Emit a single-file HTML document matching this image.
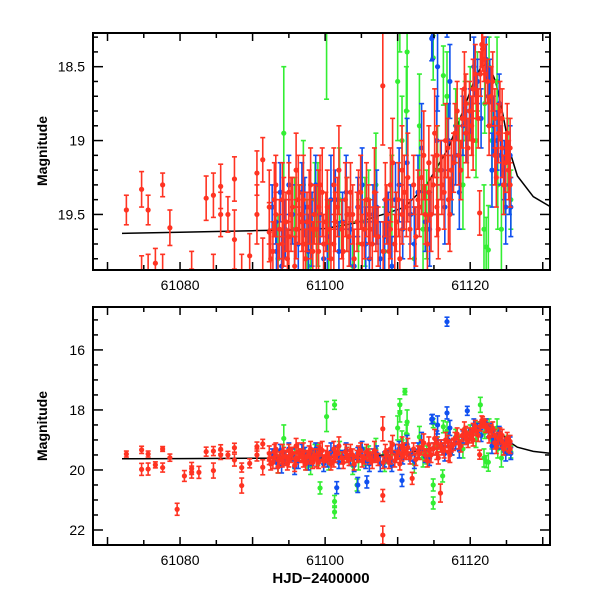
<!DOCTYPE html>
<html><head><meta charset="utf-8"><style>
html,body{margin:0;padding:0;background:#fff;overflow:hidden;width:600px;height:600px;}
svg{display:block;}
svg text{font-family:"Liberation Sans",sans-serif;}
</style></head><body>
<svg id="chart" width="600" height="600" viewBox="0 0 600 600" xmlns="http://www.w3.org/2000/svg">
<rect width="600" height="600" fill="#fff"/>
<defs>
<clipPath id="clipTop"><rect x="93" y="33" width="457" height="237"/></clipPath>
<clipPath id="clipBot"><rect x="93" y="307" width="457" height="238"/></clipPath>
</defs>
<g id="topPanel"></g>
<g id="botPanel"></g>
<text x="47" y="151" transform="rotate(-90 47 151)" text-anchor="middle" font-size="14" font-weight="bold">Magnitude</text>
<text x="47" y="426" transform="rotate(-90 47 426)" text-anchor="middle" font-size="14" font-weight="bold">Magnitude</text>
<text x="321" y="583" text-anchor="middle" font-size="15" font-weight="bold">HJD−2400000</text>
</svg>
<script>
const redT=[61072.6,61074.7,61074.7,61075.6,61075.6,61076.6,61077.6,61077.6,61078.6,61079.6,61080.6,61081.6,61081.6,61082.6,61083.6,61084.6,61084.6,61085.6,61085.6,61086.6,61087.5,61087.5,61088.5,61088.5,61089.6,61090.6,61090.6,61091.4,61091.4,
61092.3,61092.3,61092.8,61093.2,61093.2,61093.7,61094.1,61094.1,61094.6,61095.0,61095.0,61095.5,61096.0,61096.0,61096.5,61097.0,61097.0,61097.5,61098.0,61098.0,61098.5,61099.1,61099.1,61099.6,61100.1,61100.6,61101.2,61101.2,61101.7,61102.3,61102.8,61103.3,61103.8,61104.4,61104.9,61105.4,61106.0,61106.5,61107.0,61107.95,61107.95,61107.95,61108.0,61108.5,61109.0,61109.0,61109.6,61110.1,61110.6,61110.6,61111.2,61111.7,61112.0,61112.2,61112.8,61113.3,61113.8,61114.3,61114.3,61114.9,61115.4,61115.4,61115.9,61115.9,61116.4,61116.9,61117.0,61117.4,61117.9,61118.4,61118.9,61119.4,61119.4,61119.9,61120.4,61120.4,61120.9,61121.3,61121.4,61121.7,61121.9,61122.4,61122.9,61123.4,61123.4,61123.9,61124.4,61124.4,61124.9,61125.3,61125.5,
61092.5,61093.0,61093.5,61094.3,61094.8,61095.3,61095.8,61096.3,61096.8,61097.3,61097.8,61098.3,61098.8,61099.3,61099.8,61100.3,61100.8,61101.4,61101.9,61102.5,61103.0,61103.5,61104.0,61104.6,61105.1,61105.7,61106.2,61106.8,61107.3,61108.3,61108.8,61109.3,61109.8,61110.3,61110.9,61111.4,61112.5,61113.0,61113.6,61114.1,61114.6,61115.1,61115.6,61116.1,61116.6,61117.2,61117.7,61118.2,61118.7,61119.2,61119.7,61120.2,61120.7,61121.1,61121.6,61122.1,61122.6,61123.1,61123.6,61124.1,61124.6,61125.1,61125.5];
const redM=[19.47,19.33,19.98,19.47,19.97,19.83,19.3,19.92,19.59,21.31,20.2,19.95,20.07,20.08,19.39,19.37,20.02,19.31,19.5,19.5,19.26,19.67,19.92,20.52,19.78,19.22,19.5,19.13,19.91,
19.45,19.62,19.75,19.5,19.3,19.6,19.4,19.7,19.55,19.35,19.65,19.45,19.6,19.2,19.5,19.4,19.7,19.55,19.3,19.6,19.5,19.45,19.75,19.35,19.55,19.6,19.3,19.7,19.45,19.6,19.4,19.65,19.5,19.55,19.35,19.6,19.5,19.7,19.55,18.63,22.17,20.85,19.75,19.5,19.3,19.6,19.7,19.4,19.5,19.2,19.45,19.6,20.28,19.3,19.4,19.25,19.5,19.35,19.15,19.3,19.1,19.45,19.2,20.77,19.35,19.05,19.4,19.2,18.95,19.1,18.85,18.95,18.75,18.8,18.65,19.0,18.7,19.49,18.55,18.38,18.45,18.6,18.7,18.85,19.1,18.95,19.05,18.85,19.15,19.2,19.05,
19.8,19.4,19.9,19.55,19.8,19.5,19.85,19.4,19.55,19.8,19.45,19.75,19.6,19.3,19.7,19.45,19.8,19.55,19.2,19.75,19.5,19.35,19.8,19.45,19.7,19.4,19.6,19.35,19.65,19.4,19.75,19.15,19.55,19.8,19.35,19.25,19.65,19.45,19.1,19.7,19.5,18.95,19.6,19.3,19.0,19.5,19.15,18.8,19.2,18.65,19.05,18.9,18.55,18.85,18.35,18.55,18.9,18.6,19.25,18.8,19.3,18.95,19.3];
const redE=[0.1,0.12,0.2,0.1,0.2,0.1,0.08,0.15,0.12,0.2,0.18,0.2,0.2,0.2,0.15,0.15,0.25,0.15,0.15,0.12,0.15,0.2,0.15,0.25,0.15,0.15,0.2,0.15,0.25,
0.25,0.2,0.2,0.15,0.2,0.2,0.25,0.2,0.2,0.2,0.25,0.2,0.2,0.25,0.2,0.3,0.2,0.2,0.25,0.2,0.2,0.25,0.2,0.3,0.2,0.2,0.25,0.2,0.2,0.2,0.25,0.2,0.2,0.2,0.25,0.2,0.2,0.25,0.2,0.4,0.3,0.2,0.2,0.2,0.25,0.2,0.2,0.25,0.2,0.3,0.2,0.2,0.2,0.2,0.2,0.25,0.2,0.2,0.25,0.2,0.2,0.2,0.2,0.3,0.25,0.2,0.3,0.2,0.2,0.2,0.2,0.2,0.2,0.2,0.2,0.2,0.15,0.15,0.15,0.15,0.15,0.15,0.2,0.2,0.2,0.2,0.2,0.2,0.2,0.2,0.2,
0.2,0.25,0.2,0.3,0.2,0.25,0.2,0.3,0.2,0.2,0.25,0.2,0.3,0.2,0.2,0.25,0.2,0.2,0.3,0.2,0.25,0.2,0.2,0.25,0.2,0.25,0.2,0.3,0.2,0.25,0.2,0.3,0.2,0.2,0.25,0.3,0.2,0.2,0.3,0.2,0.25,0.3,0.2,0.2,0.25,0.25,0.2,0.2,0.2,0.25,0.2,0.2,0.2,0.2,0.15,0.2,0.2,0.2,0.2,0.2,0.2,0.2,0.15];

const blueT=[61092.7,61093.2,61093.3,61094.5,61095.5,61096.3,61097.2,61098.2,61099.3,61100.3,61101.4,61101.6,61102.4,61103.5,61104.5,61104.5,61105.6,61105.75,61106.6,61107.6,61108.7,61109.7,61110.6,61110.7,61111.8,61112.8,61113.8,61114.7,61114.8,61114.9,61116.0,61116.8,61116.8,61117.0,61117.5,61118.0,61119.0,61119.6,61120.0,61121.0,61122.2,61122.7,61123.2,61123.7,61124.2,61124.7,61125.4,61125.6,
61093.8,61094.0,61095.0,61095.8,61096.8,61097.7,61098.7,61099.8,61100.8,61101.9,61102.9,61104.0,61105.1,61106.1,61107.1,61108.2,61109.2,61110.2,61111.3,61112.3,61113.3,61114.4,61115.4,61115.5,61116.5,61117.2,61118.5,61119.5,61120.5,61121.5,61122.5,61123.0,61124.0,61124.9,61125.5];
const blueM=[19.45,19.55,19.75,19.6,19.5,19.7,19.45,19.6,19.5,19.65,19.4,20.59,19.55,19.6,19.45,20.5,19.7,20.4,19.5,19.8,19.55,19.4,20.35,19.6,19.5,19.35,19.55,18.31,18.3,19.3,19.2,15.06,18.1,19.0,19.3,19.1,18.9,18.03,18.8,18.6,18.45,18.6,18.9,19.0,19.1,19.2,19.3,19.45,
19.35,19.85,19.3,19.9,19.35,19.75,19.3,19.8,19.4,19.75,19.35,19.85,19.3,19.8,19.45,19.65,19.85,19.3,19.15,19.7,19.05,19.6,19.0,18.5,19.45,18.6,19.35,18.95,18.5,18.85,18.7,19.2,18.75,19.45,19.1];
const blueE=[0.15,0.15,0.2,0.2,0.2,0.25,0.2,0.25,0.2,0.25,0.2,0.2,0.2,0.25,0.2,0.25,0.25,0.2,0.2,0.25,0.2,0.25,0.2,0.2,0.2,0.25,0.2,0.15,0.15,0.2,0.2,0.15,0.2,0.25,0.2,0.2,0.2,0.15,0.15,0.15,0.15,0.15,0.2,0.2,0.2,0.2,0.2,0.2,
0.2,0.25,0.2,0.25,0.2,0.25,0.2,0.25,0.3,0.2,0.25,0.2,0.25,0.25,0.25,0.25,0.2,0.25,0.3,0.25,0.3,0.25,0.3,0.3,0.25,0.25,0.25,0.2,0.2,0.2,0.2,0.25,0.2,0.25,0.2];

const greenT=[61094.3,61096.5,61097.5,61098.6,61099.3,61100.2,61101.3,61101.3,61101.3,61103.0,61104.4,61104.6,61106.0,61110.3,61110.3,61111.0,61111.2,61111.3,61113.5,61114.9,61114.9,61114.9,61116.2,61116.3,61117.5,61118.5,61119.3,61121.0,61121.4,61121.9,61122.2,61122.5,61122.6,61123.7,61124.8,61125.6,
61093.5,61095.8,61097.0,61098.0,61099.0,61100.5,61102.0,61103.8,61105.5,61107.0,61108.2,61109.2,61110.0,61110.6,61112.3,61113.0,61114.0,61115.5,61116.8,61118.0,61119.0,61120.0,61120.8,61122.0,61123.0,61123.8,61124.3,61125.2];
const greenM=[18.95,19.5,19.7,19.4,20.6,18.22,17.83,21.05,21.4,19.5,20.5,19.7,19.4,17.83,18.1,17.39,18.8,18.4,19.6,18.44,20.5,21.1,20.2,18.56,19.3,19.1,18.8,18.6,17.83,19.6,19.72,19.74,18.5,18.6,19.3,19.4,
19.8,19.6,19.3,19.85,19.5,19.7,19.4,19.85,19.55,19.3,19.75,19.4,18.6,19.0,19.8,18.9,19.5,19.2,18.7,18.9,19.3,18.75,19.0,18.75,19.0,19.3,19.6,19.1];
const greenE=[0.45,0.2,0.3,0.25,0.2,0.5,0.15,0.2,0.2,0.25,0.2,0.3,0.2,0.2,0.3,0.1,0.3,0.4,0.3,0.15,0.2,0.2,0.2,0.2,0.2,0.25,0.2,0.2,0.25,0.3,0.2,0.3,0.2,0.3,0.2,0.2,
0.3,0.35,0.3,0.3,0.35,0.3,0.35,0.3,0.3,0.35,0.3,0.3,0.4,0.3,0.3,0.35,0.3,0.3,0.3,0.25,0.3,0.25,0.25,0.2,0.3,0.3,0.3,0.25];

const curveT=[61072,61080,61090,61095,61100,61104,61108,61111,61114,61117,61119,61120.5,61121.5,61122.5,61123.5,61124.5,61125.5,61126.5,61128.7,61131];
const curveM=[19.628,19.62,19.61,19.605,19.595,19.56,19.5,19.45,19.3,19.05,18.8,18.6,18.5,18.48,18.6,18.82,19.08,19.24,19.38,19.446];

const xTickLabels=[61080,61100,61120];
const topYTickLabels=[18.5,19,19.5];
const botYTickLabels=[16,18,20,22];

const NS="http://www.w3.org/2000/svg";
const X0=61068, X1=61131, PX0=93, PX1=550;
function xs(t){return PX0+(t-X0)/(X1-X0)*(PX1-PX0);}
const panels=[
 {g:document.getElementById('topPanel'),clip:'clipTop',y0:33,y1:270,m0:18.272,m1:19.876,minor:0.1,major:0.5,labels:topYTickLabels,name:'top'},
 {g:document.getElementById('botPanel'),clip:'clipBot',y0:307,y1:545,m0:14.57,m1:22.5,minor:0.5,major:2,labels:botYTickLabels,name:'bottom'}
];
function mk(tag,attrs,parent){const e=document.createElementNS(NS,tag);for(const k in attrs)e.setAttribute(k,attrs[k]);parent.appendChild(e);return e;}
const series=[
 {T:greenT,M:greenM,E:greenE,c:'#33ee33',n:'green'},
 {T:blueT,M:blueM,E:blueE,c:'#1050f0',n:'blue'},
 {T:redT,M:redM,E:redE,c:'#ff3322',n:'red'}
];
panels.forEach(p=>{
 const ys=m=>p.y0+(m-p.m0)/(p.m1-p.m0)*(p.y1-p.y0);
 const cy=y=>Math.max(p.y0-4,Math.min(p.y1+4,y));
 const data=mk('g',{'clip-path':'url(#'+p.clip+')'},p.g);
 
 
 let d='';
 for(let i=0;i<curveT.length;i++)d+=(i?'L':'M')+xs(curveT[i]).toFixed(1)+','+ys(curveM[i]).toFixed(1);
 const cv=mk('path',{d:d,fill:'none',stroke:'#000','stroke-width':1.5},data);
 
 
 series.forEach(s=>{
  const sg=mk('g',{stroke:s.c,fill:s.c,'stroke-width':1.6},data);
  
  
  for(let i=0;i<s.T.length;i++){
   const x=xs(s.T[i]),y=ys(s.M[i]),ya=ys(s.M[i]-s.E[i]),yb=ys(s.M[i]+s.E[i]);
   if(ya>p.y1||yb<p.y0)continue;
   const pt=mk('g',{},sg);
   
   
   mk('line',{x1:x,x2:x,y1:cy(ya),y2:cy(yb)},pt);
   if(ya>=p.y0)mk('line',{x1:x-2.5,x2:x+2.5,y1:ya,y2:ya},pt);
   if(yb<=p.y1)mk('line',{x1:x-2.5,x2:x+2.5,y1:yb,y2:yb},pt);
   if(y>=p.y0-3&&y<=p.y1+3)mk('circle',{cx:x,cy:y,r:2.6,stroke:'none'},pt);
  }
 });
 const ax=mk('g',{stroke:'#000','stroke-width':1.5,fill:'none'},p.g);
 
 
 mk('rect',{x:PX0,y:p.y0,width:PX1-PX0,height:p.y1-p.y0,'stroke-width':2},ax);
 for(let t=61070;t<=61130;t+=5){
  const x=xs(t),L=(t%10===0)?8:5;
  mk('line',{x1:x,x2:x,y1:p.y1,y2:p.y1-L},ax);
  mk('line',{x1:x,x2:x,y1:p.y0,y2:p.y0+L},ax);
 }
 const nMin=Math.ceil(p.m0/p.minor), nMax=Math.floor(p.m1/p.minor);
 for(let k=nMin;k<=nMax;k++){
  const m=k*p.minor,y=ys(m);
  const isMaj=Math.abs(m/p.major-Math.round(m/p.major))<1e-6;
  const L=isMaj?10:5;
  mk('line',{x1:PX0,x2:PX0+L,y1:y,y2:y},ax);
  mk('line',{x1:PX1,x2:PX1-L,y1:y,y2:y},ax);
 }
 p.labels.forEach(v=>{
  const t=mk('text',{x:PX0-8,y:ys(v)+5,'text-anchor':'end','font-size':14},p.g);
  t.textContent=String(v);
  
  
 });
 xTickLabels.forEach(v=>{
  const t=mk('text',{x:xs(v),y:p.y1+20,'text-anchor':'middle','font-size':14},p.g);
  t.textContent=String(v);
  
  
 });
});
</script>
</body></html>
